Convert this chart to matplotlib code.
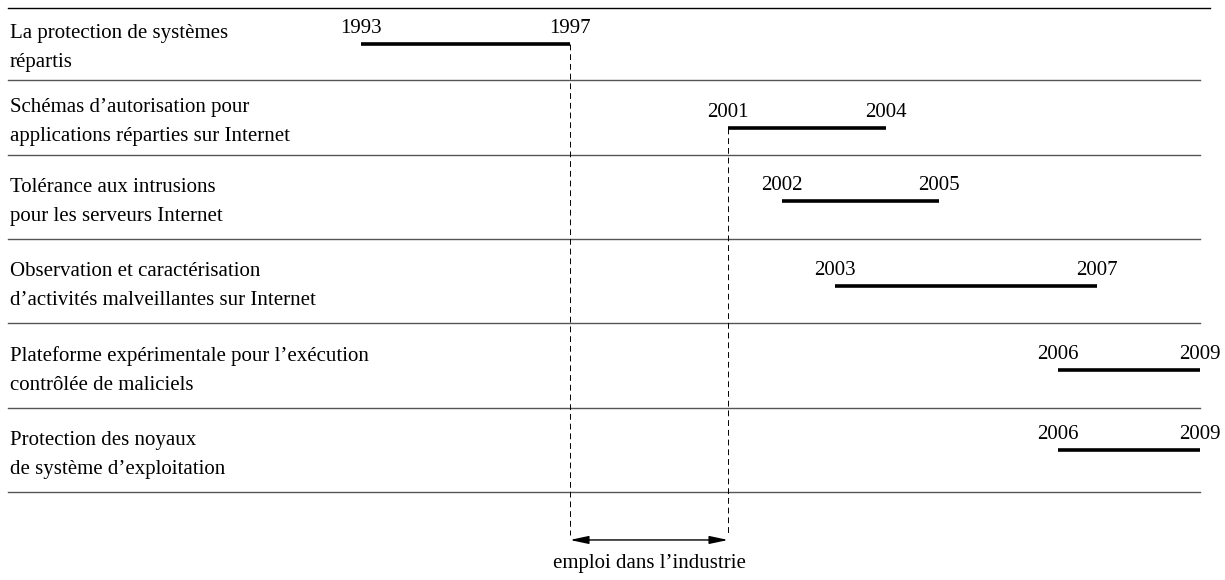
import numpy as np
import matplotlib
matplotlib.use("Agg")
import matplotlib.pyplot as plt
from matplotlib.transforms import blended_transform_factory

# ---- data ----
projects = [
    "La protection de systèmes\nrépartis",
    "Schémas d’autorisation pour\napplications réparties sur Internet",
    "Tolérance aux intrusions\npour les serveurs Internet",
    "Observation et caractérisation\nd’activités malveillantes sur Internet",
    "Plateforme expérimentale pour l’exécution\ncontrôlée de maliciels",
    "Protection des noyaux\nde système d’exploitation",
]
start_years = [1993, 2001, 2002, 2003, 2006, 2006]
end_years = [1997, 2004, 2005, 2007, 2009, 2009]
industry_period = [1997, 2001]
industry_label = "emploi dans l’industrie"

# ---- layout (the original timeline is not drawn to a uniform scale) ----
x_knots_year = [1986.09, 1993, 1997, 2001, 2002, 2003, 2004, 2005, 2006, 2007, 2009, 2009.49]
x_knots_px = [0, 361, 570, 728, 782, 835, 886, 939, 1058, 1097, 1200, 1225]
y_knots_row = [-8 / 72, 0, 1, 2, 3, 4, 5, 6, 7]
y_knots_px = [0, 8, 80, 155, 239, 323, 408, 492, 580]

def xf(v):
    return np.interp(v, x_knots_year, x_knots_px)

def xi(v):
    return np.interp(v, x_knots_px, x_knots_year)

def yf(v):
    return np.interp(v, y_knots_row, y_knots_px)

def yi(v):
    return np.interp(v, y_knots_px, y_knots_row)

plt.rcParams["font.family"] = ["Liberation Serif", "DejaVu Serif"]
fig = plt.figure(figsize=(12.25, 5.8), dpi=100)
ax = fig.add_axes([0, 0, 1, 1])
ax.set_xscale("function", functions=(xf, xi))
ax.set_yscale("function", functions=(yf, yi))
ax.set_xlim(x_knots_year[0], x_knots_year[-1])
ax.set_ylim(y_knots_row[-1], y_knots_row[0])
ax.axis("off")

fs = 15
n = len(projects)
bar_off = [0.5, 0.64, 0.55, 0.56, 0.55, 0.5]

# separators
ax.axhline(0, xmin=8 / 1225, xmax=1210 / 1225, color="black", lw=1.0)
for i in range(1, n + 1):
    ax.axhline(i, xmin=8 / 1225, xmax=1200 / 1225, color="#555555", lw=1.0)

tr = blended_transform_factory(ax.transAxes, ax.transData)
for i, (name, s, e) in enumerate(zip(projects, start_years, end_years)):
    yb = i + bar_off[i]
    ax.text(10 / 1225, i + 0.56, name, transform=tr, ha="left", va="center",
            fontsize=fs, linespacing=1.7)
    ax.plot([s, e], [yb, yb], color="black", lw=2.6, solid_capstyle="butt")
    for yr in (s, e):
        ax.annotate(str(yr), (yr, yb), xytext=(0, 8), textcoords="offset points",
                    ha="center", va="baseline", fontsize=fs)

# dashed lines for industry period
y_low = 6.49
ax.plot([industry_period[0]] * 2, [0 + bar_off[0], y_low], color="black", lw=0.7,
        dashes=(6, 4))
ax.plot([industry_period[1]] * 2, [1 + bar_off[1], y_low], color="black", lw=0.7,
        dashes=(6, 4))

ax.annotate("", xy=(industry_period[1], 6.545), xytext=(industry_period[0], 6.545),
            arrowprops=dict(arrowstyle="<|-|>,head_length=0.7,head_width=0.15",
                            mutation_scale=16, color="black", lw=1.0,
                            shrinkA=0, shrinkB=0))
ax.text(np.mean(industry_period), 6.81, industry_label, ha="center", va="center",
        fontsize=fs)

fig.savefig("out.png", dpi=100)
